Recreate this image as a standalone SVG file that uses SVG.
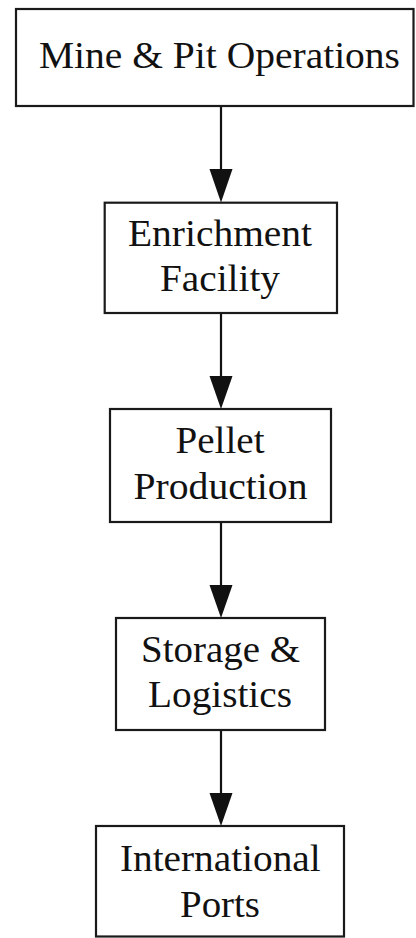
<svg xmlns="http://www.w3.org/2000/svg" width="416" height="938" viewBox="0 0 416 938">
<style>
.box{fill:#fff;stroke:#1a1a1a;stroke-width:2.2}
.lbl{font-family:'Liberation Serif','Times New Roman',Times,serif;font-size:38px;fill:#111;text-anchor:middle}
.edge{stroke:#111;stroke-width:2.2;fill:none}
.head{fill:#111}
</style>
<rect width="416" height="938" fill="#fff"/>
<g id="connectors">
<line class="edge" x1="221" y1="106" x2="221" y2="172"/>
<polygon class="head" points="209.5,169 232.5,169 221,202.5"/>
<line class="edge" x1="221" y1="313" x2="221" y2="380"/>
<polygon class="head" points="209.5,376 232.5,376 221,409"/>
<line class="edge" x1="221" y1="522" x2="221" y2="589"/>
<polygon class="head" points="209.5,585 232.5,585 221,618"/>
<line class="edge" x1="221" y1="730" x2="221" y2="797"/>
<polygon class="head" points="209.5,793 232.5,793 221,826"/>
</g>
<g id="mine">
<rect class="box" x="16" y="9" width="397.5" height="97"/>
<text class="lbl" x="219.5" y="68" textLength="361" lengthAdjust="spacingAndGlyphs">Mine &amp; Pit Operations</text>
</g>
<g id="enrichment">
<rect class="box" x="104.7" y="202.7" width="232.3" height="110.3"/>
<text class="lbl" x="220" y="246" textLength="184" lengthAdjust="spacingAndGlyphs">Enrichment</text>
<text class="lbl" x="220" y="290.7" textLength="120" lengthAdjust="spacingAndGlyphs">Facility</text>
</g>
<g id="pellet">
<rect class="box" x="110" y="409" width="221" height="113"/>
<text class="lbl" x="220" y="453.3" textLength="89" lengthAdjust="spacingAndGlyphs">Pellet</text>
<text class="lbl" x="220.5" y="499" textLength="174" lengthAdjust="spacingAndGlyphs">Production</text>
</g>
<g id="storage">
<rect class="box" x="116" y="618" width="209" height="112"/>
<text class="lbl" x="220.5" y="662.3" textLength="159" lengthAdjust="spacingAndGlyphs">Storage &amp;</text>
<text class="lbl" x="220" y="707.3" textLength="144" lengthAdjust="spacingAndGlyphs">Logistics</text>
</g>
<g id="ports">
<rect class="box" x="96" y="826" width="248" height="110.5"/>
<text class="lbl" x="220.3" y="871" textLength="200.7" lengthAdjust="spacingAndGlyphs">International</text>
<text class="lbl" x="220" y="916.7" textLength="80" lengthAdjust="spacingAndGlyphs">Ports</text>
</g>
</svg>
